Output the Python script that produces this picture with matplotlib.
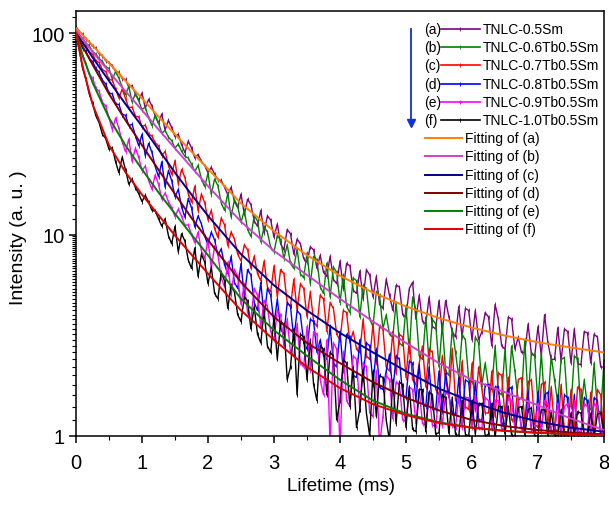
import numpy as np
import matplotlib
matplotlib.use("Agg")
import matplotlib.pyplot as plt
from matplotlib.lines import Line2D
from matplotlib.ticker import LogLocator, FixedLocator, NullFormatter, MultipleLocator

plt.rcParams['font.family'] = ['Liberation Sans', 'DejaVu Sans']

# ---------------- data ----------------
t_data = np.linspace(0, 8, 161)  # 0.05 ms sampling

data_a = [108, 102, 99, 93.5, 91, 86, 84.5, 79, 77.5, 73, 71.5,
          69, 64.5, 64, 59.5, 59, 54, 55, 50, 46.5, 50.5,
          42.5, 47, 43.5, 38.8, 35.6, 39.8, 33, 37, 34, 30.6,
          31.5, 28, 25.5, 29.2, 27, 24, 25, 23.1, 22, 20.3,
          21.6, 20, 18.7, 18.6, 17.2, 15.8, 17.2, 14.7, 13.6, 15.9,
          12.6, 15, 14.1, 11.7, 11, 13.2, 10.2, 12.4, 11.8, 9.7,
          11.3, 9.0, 8.4, 10.6, 10.1, 8.0, 9.5, 9.0, 7.6, 7.3,
          8.7, 8.4, 6.8, 7.9, 6.5, 6.2, 7.8, 6.0, 5.7, 7.4,
          5.4, 7.2, 7.0, 5.3, 5.1, 6.6, 4.8, 6.7, 6.3, 4.9,
          6.2, 4.5, 4.3, 6.0, 5.0, 4.2, 5.6, 5.5, 4.0, 3.9,
          5.4, 5.8, 3.8, 5.0, 3.7, 3.6, 4.9, 3.5, 3.4, 4.7,
          3.3, 4.7, 3.9, 3.3, 3.1, 4.4, 3.1, 4.3, 4.2, 3.0,
          4.2, 3.0, 3.3, 4.1, 3.9, 2.8, 4.5, 3.8, 2.8, 2.7,
          3.9, 3.8, 2.7, 3.1, 2.6, 2.6, 3.6, 2.55, 2.5, 3.5,
          2.5, 4.0, 2.9, 2.4, 2.4, 3.45, 2.35, 3.4, 3.3, 2.3,
          3.4, 2.3, 2.25, 3.3, 3.25, 2.3, 3.2, 3.1, 2.2, 2.2]

data_b = [104, 98, 94.5, 89, 87, 81, 79, 75, 72.5, 68, 67,
          59, 64.5, 59.8, 54, 49.5, 54.5, 45.5, 50.3, 46.2, 41.8,
          43, 38, 34.8, 39.2, 36, 31.8, 33, 30.5, 29.3, 26.9,
          28.2, 25.9, 24.5, 24, 22.4, 20.6, 22.1, 18.9, 17.3, 20.2,
          15.8, 18.9, 17.5, 14.4, 13.2, 16.1, 12.2, 14.9, 13.9, 11.5,
          13.2, 10.6, 9.8, 12.4, 11.7, 9.2, 10.9, 10.3, 8.6, 8.2,
          9.9, 9.4, 7.6, 8.9, 7.2, 6.8, 8.5, 6.4, 6.1, 8.1,
          5.7, 7.8, 7.5, 5.5, 5.1, 7.2, 4.9, 6.9, 6.5, 4.6,
          6.3, 4.4, 4.1, 6.1, 5.9, 3.9, 5.6, 5.4, 3.8, 3.5,
          5.2, 5.0, 3.4, 4.0, 3.2, 3.1, 4.6, 2.9, 2.8, 4.4,
          2.6, 4.9, 4.2, 2.5, 2.4, 3.9, 2.3, 3.8, 3.6, 2.2,
          3.6, 2.1, 2.0, 3.4, 2.6, 1.95, 3.2, 3.0, 1.9, 1.85,
          3.1, 2.9, 1.8, 2.3, 1.75, 1.7, 2.8, 1.65, 1.6, 2.7,
          1.55, 2.8, 2.1, 1.5, 1.55, 3.0, 1.5, 2.6, 2.5, 1.45,
          2.6, 1.45, 1.4, 2.5, 1.9, 1.45, 2.4, 2.45, 1.4, 1.4,
          2.5, 2.4, 1.35, 1.9, 1.4, 1.35, 2.3, 1.35, 1.3, 2.35]

data_c = [100, 96, 89, 87, 81, 79, 73, 71.5, 66, 64.5, 59,
          58.5, 52.8, 47.6, 53, 47.3, 42.6, 43, 38.8, 38.4, 34.3,
          35, 31.6, 30.9, 28.6, 27.6, 24.7, 25.9, 22.1, 19.9, 23.3,
          17.8, 21.1, 19.2, 16, 14.5, 17.4, 13.1, 15.9, 14.4, 11.8,
          13.2, 10.7, 9.7, 12.1, 11.2, 8.8, 10.3, 9.5, 8.0, 7.4,
          8.9, 8.4, 6.8, 7.8, 6.4, 5.9, 7.4, 5.5, 5.2, 7.0,
          4.9, 6.7, 6.4, 4.6, 4.4, 6.0, 4.2, 5.7, 5.4, 3.9,
          5.2, 3.7, 3.5, 5.0, 4.8, 3.3, 4.6, 4.3, 3.2, 3.0,
          4.2, 4.1, 2.9, 3.3, 2.7, 2.6, 3.8, 2.5, 2.4, 3.6,
          2.3, 3.5, 3.4, 2.2, 2.1, 3.3, 2.05, 3.2, 3.1, 1.95,
          3.0, 1.9, 1.8, 2.3, 2.8, 1.75, 2.7, 2.6, 1.7, 1.6,
          2.5, 1.9, 1.55, 2.7, 1.5, 1.45, 2.35, 1.4, 1.35, 2.3,
          1.35, 2.2, 1.7, 1.3, 1.3, 2.1, 1.25, 2.05, 2.0, 1.25,
          1.95, 1.2, 1.2, 1.9, 1.95, 1.15, 1.85, 1.9, 1.15, 1.1,
          1.8, 1.85, 1.1, 1.75, 1.1, 1.05, 1.8, 1.05, 1.05, 1.7,
          1.05, 1.75, 1.7, 1.0, 1.05, 1.65, 1.0, 1.7, 1.6, 1.0]

data_d = [99, 93, 84, 81.5, 75, 72.5, 67, 64, 58.5, 56, 50.5,
          50, 44.5, 44.3, 39.5, 39.2, 34.8, 35.3, 31, 27.6, 31.5,
          24.6, 28.4, 25.6, 21.8, 19.4, 23, 17.2, 20.8, 18.5, 15.4,
          16.8, 13.7, 12.2, 15.1, 13.6, 10.9, 12.4, 11.3, 9.8, 8.9,
          10.3, 9.4, 7.9, 8.5, 7.1, 6.4, 7.8, 5.8, 5.4, 7.2,
          4.9, 6.7, 6.3, 4.6, 4.2, 5.8, 3.9, 5.4, 5.0, 3.6,
          4.8, 3.4, 3.2, 4.6, 4.4, 3.0, 4.2, 4.0, 2.9, 2.7,
          3.8, 3.7, 2.6, 3.0, 2.5, 2.4, 3.5, 2.3, 2.2, 3.3,
          2.1, 3.2, 3.1, 2.0, 1.95, 3.0, 1.9, 2.9, 2.8, 1.8,
          2.7, 1.75, 1.7, 2.1, 2.55, 1.65, 2.5, 2.4, 1.6, 1.55,
          2.35, 2.3, 1.5, 2.25, 1.45, 1.4, 2.2, 1.38, 1.35, 2.1,
          1.32, 2.05, 1.6, 1.3, 1.28, 1.95, 1.25, 1.9, 1.85, 1.22,
          1.85, 1.2, 1.2, 1.8, 1.8, 1.18, 1.75, 1.75, 1.15, 1.15,
          1.7, 1.75, 1.12, 1.4, 1.1, 1.1, 1.65, 1.08, 1.05, 1.65,
          1.05, 1.6, 1.65, 1.05, 1.02, 1.6, 1.0, 1.6, 1.55, 1.02,
          1.6, 1.0, 1.0, 1.55, 1.5, 0.98, 1.55, 1.5, 1.0, 0.98]

data_e = [98, 88, 76, 70, 62.5, 60, 53.5, 51.5, 45.5, 43.5, 38,
          33.2, 38, 33.6, 29, 25.8, 29.8, 23.1, 26.9, 24.2, 20.8,
          21.9, 18.6, 16.8, 19.8, 17.8, 15, 16.1, 14.6, 13.6, 12.3,
          13.4, 12.3, 11.1, 11.2, 10.0, 9.1, 10.3, 8.3, 7.6, 9.5,
          6.8, 8.8, 8.0, 6.1, 5.5, 7.3, 5.0, 6.7, 6.2, 4.5,
          5.7, 4.1, 3.8, 5.4, 5.0, 3.5, 4.7, 4.4, 3.3, 3.0,
          4.2, 4.0, 2.8, 3.8, 2.6, 2.5, 3.6, 2.3, 2.2, 3.5,
          2.1, 3.3, 3.2, 1.9, 1.6, 3.0, 0.9, 2.9, 2.7, 0.85,
          2.6, 1.5, 1.4, 2.5, 2.4, 1.35, 2.3, 2.2, 1.3, 1.25,
          2.1, 0.9, 1.25, 2.0, 1.9, 1.22, 1.85, 1.8, 1.2, 1.18,
          1.75, 1.7, 1.15, 1.7, 1.15, 1.14, 1.65, 1.13, 1.12, 1.6,
          1.12, 1.65, 1.6, 1.12, 1.1, 1.6, 1.1, 1.55, 1.55, 1.1,
          1.6, 1.1, 1.1, 1.55, 1.5, 1.08, 1.5, 1.5, 1.08, 1.08,
          1.55, 1.5, 1.08, 1.5, 1.07, 1.07, 1.45, 1.07, 1.06, 1.45,
          1.07, 1.5, 1.45, 1.07, 1.06, 1.45, 1.06, 1.4, 1.45, 1.06,
          1.5, 1.06, 1.05, 1.45, 1.4, 1.05, 1.45, 1.4, 1.05, 1.05]

data_f = [97, 83, 67, 59, 50, 45, 39, 36, 31.5, 30, 26.5,
          27, 23, 20.3, 24.3, 21, 17.8, 18.9, 17.1, 16, 14.6,
          15.7, 14.5, 13.2, 13.1, 12, 11, 12, 9.9, 9.0, 11,
          8.2, 10.1, 9.3, 7.5, 6.8, 8.6, 6.2, 8.0, 7.3, 5.7,
          6.9, 5.1, 4.8, 6.5, 5.9, 4.3, 5.6, 5.2, 4.0, 3.7,
          4.9, 4.7, 3.4, 4.4, 3.2, 2.9, 4.2, 2.8, 2.6, 3.9,
          2.4, 3.7, 3.6, 1.9, 2.2, 3.4, 1.6, 3.2, 3.1, 1.9,
          3.0, 1.8, 1.5, 2.8, 2.7, 1.6, 2.6, 2.5, 1.2, 1.5,
          2.4, 2.3, 1.4, 2.2, 1.1, 1.35, 2.15, 1.3, 1.0, 2.1,
          1.25, 2.0, 1.95, 1.2, 0.95, 1.9, 1.15, 1.85, 1.8, 1.1,
          1.75, 1.08, 1.05, 1.7, 1.7, 1.05, 1.65, 1.6, 1.02, 1.04,
          1.6, 1.55, 1.03, 1.55, 1.02, 1.0, 1.5, 1.02, 1.0, 1.5,
          1.02, 1.45, 1.45, 1.0, 1.02, 1.45, 0.98, 1.4, 1.4, 1.02,
          1.4, 1.01, 1.0, 1.38, 1.4, 1.01, 1.35, 1.38, 0.99, 1.01,
          1.35, 1.35, 1.0, 1.32, 1.01, 1.0, 1.35, 1.0, 0.99, 1.3,
          1.0, 1.32, 1.3, 1.01, 1.0, 1.3, 0.99, 1.28, 1.3, 1.0]

fit_t = [0, 0.1, 0.25, 0.5, 0.75, 1, 1.25, 1.5, 1.75, 2, 2.5, 3, 3.5, 4,
         4.5, 5, 5.5, 6, 6.5, 7, 7.5, 8]
fit_a = [106, 98, 87, 71, 58, 47.5, 38.5, 31.5, 25.8, 21.2, 14.3, 10.4, 7.9,
         6.25, 5.15, 4.4, 3.85, 3.45, 3.15, 2.92, 2.75, 2.6]
fit_b = [103, 94, 81, 64.5, 51.5, 41.5, 33.3, 26.8, 21.6, 17.4, 11.6, 8.3,
         6.3, 4.8, 3.7, 2.9, 2.3, 1.9, 1.65, 1.42, 1.22, 1.07]
fit_c = [100, 90, 76, 58, 44.5, 34.5, 26.5, 20.3, 15.8, 12.4, 8.0, 5.6, 4.2,
         3.25, 2.6, 2.1, 1.72, 1.48, 1.3, 1.18, 1.1, 1.05]
fit_d = [100, 86, 70, 50, 37, 27.8, 21, 15.9, 12.1, 9.4, 5.8, 3.9, 2.9, 2.3,
         1.85, 1.55, 1.34, 1.2, 1.12, 1.07, 1.04, 1.02]
fit_e = [100, 78, 57, 38, 27.7, 21.1, 16.2, 12.7, 10.0, 7.9, 4.8, 3.35, 2.5,
         1.9, 1.5, 1.29, 1.17, 1.1, 1.06, 1.035, 1.02, 1.01]
fit_f = [100, 68.6, 44.5, 27.8, 20.4, 15.8, 12.5, 9.9, 7.95, 6.4, 4.2, 3.0,
         2.2, 1.73, 1.44, 1.27, 1.16, 1.1, 1.06, 1.04, 1.02, 1.01]

data_tags = ['(a)', '(b)', '(c)', '(d)', '(e)', '(f)']
data_labels = ['TNLC-0.5Sm', 'TNLC-0.6Tb0.5Sm', 'TNLC-0.7Tb0.5Sm',
               'TNLC-0.8Tb0.5Sm', 'TNLC-0.9Tb0.5Sm', 'TNLC-1.0Tb0.5Sm']
fit_labels = ['Fitting of (a)', 'Fitting of (b)', 'Fitting of (c)',
              'Fitting of (d)', 'Fitting of (e)', 'Fitting of (f)']

data_colors = ['#800080', '#008000', '#FF0000', '#0000FF', '#FF00FF', '#000000']
fit_colors = ['#FF8000', '#D040D0', '#000090', '#800000', '#008000', '#E00000']

series = [data_a, data_b, data_c, data_d, data_e, data_f]
fits = [fit_a, fit_b, fit_c, fit_d, fit_e, fit_f]

# ---------------- figure ----------------
W, H = 609, 506
fig = plt.figure(figsize=(W / 100, H / 100), dpi=100)
ax = fig.add_axes([76 / W, 1 - 437 / H, (604 - 76) / W, (437 - 12) / H])

for y, c in zip(series, data_colors):
    ax.plot(t_data, y, color=c, lw=1.0, marker='|', ms=2.5, mew=0.6, zorder=2)
for y, c in zip(fits, fit_colors):
    ax.plot(fit_t, y, color=c, lw=1.4, zorder=3)

ax.set_yscale('log')
ax.set_xlim(0, 8)
ax.set_ylim(1, 129)
ax.xaxis.set_major_locator(MultipleLocator(1))
ax.xaxis.set_minor_locator(MultipleLocator(0.5))
ax.yaxis.set_major_locator(FixedLocator([1, 10, 100]))
ax.set_yticklabels(['1', '10', '100'])
ax.yaxis.set_minor_locator(LogLocator(base=10, subs=np.arange(1.2, 10.0, 0.2)))
ax.yaxis.set_minor_formatter(NullFormatter())
ax.tick_params(which='major', direction='out', length=5, width=1.1, labelsize=14.5)
ax.tick_params(which='minor', direction='out', length=3, width=0.8)
ax.tick_params(axis='x', pad=7)
ax.tick_params(axis='y', pad=3)
for s in ax.spines.values():
    s.set_linewidth(1.1)

fig.text(341 / W, 1 - 487 / H, 'Lifetime (ms)', ha='center', va='center', fontsize=13.5)
fig.text(19 / W, 1 - 238 / H, 'Intensity (a. u. )', ha='center', va='center',
         rotation=90, fontsize=14)

# ---------------- legend (drawn manually) ----------------
def fx(px):
    return px / W


def fy(py):
    return 1 - py / H


row0 = 30
dy = 18.2
for i in range(6):
    yy = row0 + i * dy
    fig.text(fx(424), fy(yy), data_tags[i], ha='left', va='center', fontsize=10)
    fig.add_artist(Line2D([fx(441), fx(480)], [fy(yy), fy(yy)], color=data_colors[i],
                          lw=1.2, transform=fig.transFigure))
    fig.add_artist(Line2D([fx(460)], [fy(yy)], color=data_colors[i], marker='|',
                          ms=3, mew=0.6, transform=fig.transFigure))
    fig.text(fx(483), fy(yy), data_labels[i], ha='left', va='center', fontsize=10)
for i in range(6):
    yy = row0 + (i + 6) * dy
    fig.add_artist(Line2D([fx(425), fx(462)], [fy(yy), fy(yy)], color=fit_colors[i],
                          lw=1.4, transform=fig.transFigure))
    fig.text(fx(465), fy(yy), fit_labels[i], ha='left', va='center', fontsize=10)

fig.add_artist(Line2D([fx(411), fx(411)], [fy(30), fy(121)], color='#1030E0', lw=1.3,
                      transform=fig.transFigure))
fig.add_artist(Line2D([fx(411)], [fy(124)], color='#1030E0', marker='v', ms=6,
                      transform=fig.transFigure))

fig.savefig('out.png', dpi=100)
